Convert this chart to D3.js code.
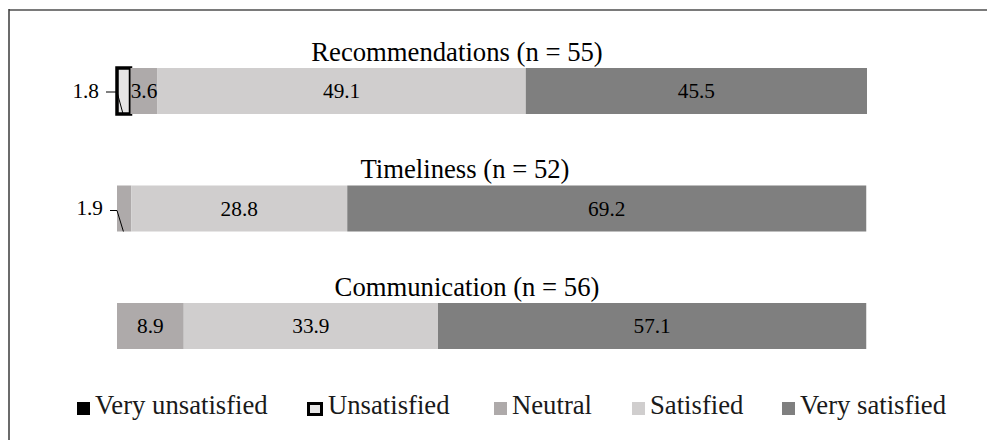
<!DOCTYPE html>
<html>
<head>
<meta charset="utf-8">
<script src="https://cdn.jsdelivr.net/npm/d3@7"></script>
<style>
  html, body { margin: 0; padding: 0; background: #fff; }
  svg { display: block; }
  text { font-family: "Liberation Serif", "Times New Roman", serif; }
</style>
</head>
<body>
<svg id="chart" width="987" height="440"></svg>
<script>
// ---- data ----
const categories = ["Recommendations (n = 55)", "Timeliness (n = 52)", "Communication (n = 56)"];
const seriesNames = ["Very unsatisfied", "Unsatisfied", "Neutral", "Satisfied", "Very satisfied"];
const veryUnsatisfied = [0, 0, 0];
const unsatisfied = [1.8, 0, 0];
const neutral = [3.6, 1.9, 8.9];
const satisfied = [49.1, 28.8, 33.9];
const verySatisfied = [45.5, 69.2, 57.1];

// ---- styles / layout ----
const colors = ["#000000", "#E7E6E6", "#AEAAAA", "#D0CECE", "#7F7F7F"];
const titleDx = [-35, -27, -25];
const legendX = [77, 307, 494, 632, 782];
const leaderTextX = [99, 103, 103];
const leaderTextDy = [7, 6, 6];
const leaderLineDy = [1, 2, 2];

const svg = d3.select("#chart");

// frame
svg.append("line").attr("x1", 9).attr("x2", 987).attr("y1", 10).attr("y2", 10)
  .attr("stroke", "#7a7a7a").attr("stroke-width", 2);
svg.append("line").attr("x1", 9).attr("x2", 9).attr("y1", 9).attr("y2", 440)
  .attr("stroke", "#3a3a3a").attr("stroke-width", 1.5);

const table = categories.map((c, i) => ({
  category: c,
  "Very unsatisfied": veryUnsatisfied[i],
  "Unsatisfied": unsatisfied[i],
  "Neutral": neutral[i],
  "Satisfied": satisfied[i],
  "Very satisfied": verySatisfied[i]
}));
const stacked = d3.stack().keys(seriesNames)(table);

const x = d3.scaleLinear().domain([0, 100]).range([117, 867]);
const y = d3.scaleBand().domain(categories).range([68, 349]).paddingInner(0.6085).paddingOuter(0);
const color = d3.scaleOrdinal().domain(seriesNames).range(colors);

// bars
stacked.forEach((layer) => {
  const g = svg.append("g");
  layer.forEach((d, ci) => {
    const w = x(d[1]) - x(d[0]);
    if (w <= 0) return;
    const r = g.append("rect")
      .attr("x", x(d[0]))
      .attr("y", y(categories[ci]))
      .attr("width", w)
      .attr("height", y.bandwidth())
      .attr("fill", color(layer.key));
    if (layer.key === "Unsatisfied") {
      r.attr("stroke", "#000").attr("stroke-width", 3.5);
    }
  });
});

// category titles
categories.forEach((c, i) => {
  svg.append("text")
    .attr("x", x(50) + titleDx[i])
    .attr("y", y(c) - 7)
    .attr("text-anchor", "middle")
    .attr("font-size", 26.7)
    .attr("fill", "#000")
    .text(c);
});

// data labels
stacked.forEach(layer => {
  layer.forEach((d, ci) => {
    const v = d[1] - d[0];
    if (v <= 0) return;
    const cat = categories[ci];
    const yc = y(cat) + y.bandwidth() / 2;
    const w = x(d[1]) - x(d[0]);
    if (w < 20) {
      const tx = leaderTextX[ci];
      const ly = yc + leaderLineDy[ci];
      svg.append("text")
        .attr("x", tx)
        .attr("y", yc + leaderTextDy[ci])
        .attr("text-anchor", "end")
        .attr("font-size", 21.3)
        .attr("fill", "#000")
        .text(v.toFixed(1));
      const bx = x(d[0]) + w * 0.45;
      svg.append("polyline")
        .attr("points", [[tx + 7, ly], [x(d[0]), ly], [bx, y(cat) + y.bandwidth()]].map(p => p.join(",")).join(" "))
        .attr("fill", "none")
        .attr("stroke", "#000")
        .attr("stroke-width", 1);
    } else {
      svg.append("text")
        .attr("x", (x(d[0]) + x(d[1])) / 2)
        .attr("y", yc + 7)
        .attr("text-anchor", "middle")
        .attr("font-size", 21.3)
        .attr("fill", "#000")
        .text(v.toFixed(1));
    }
  });
});

// legend
const legend = svg.append("g");
seriesNames.forEach((s, i) => {
  const lx = legendX[i];
  if (s === "Unsatisfied") {
    legend.append("rect").attr("x", lx + 1.5).attr("y", 403.5).attr("width", 13).attr("height", 11)
      .attr("fill", colors[i]).attr("stroke", "#000").attr("stroke-width", 3);
    legend.append("text").attr("x", lx + 21).attr("y", 414).attr("font-size", 26.7)
      .attr("fill", "#1a1a1a").text(s);
  } else {
    legend.append("rect").attr("x", lx).attr("y", 402).attr("width", 13).attr("height", 13)
      .attr("fill", colors[i]);
    legend.append("text").attr("x", lx + 18).attr("y", 414).attr("font-size", 26.7)
      .attr("fill", "#1a1a1a").text(s);
  }
});
</script>
</body>
</html>
